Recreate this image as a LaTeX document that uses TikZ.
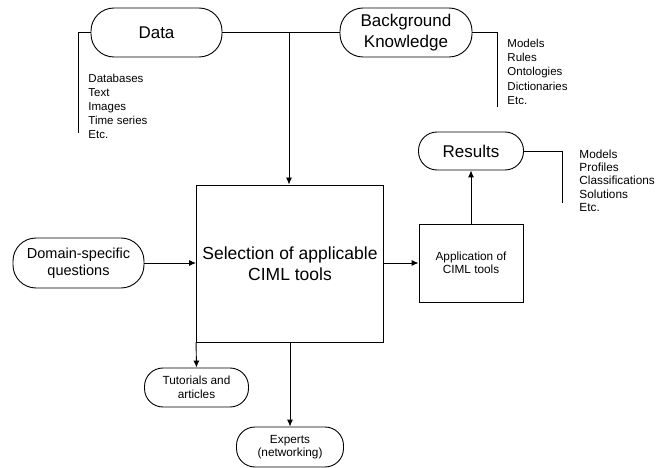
\documentclass[tikz,border=0pt]{standalone}
\usepackage{fontspec}
\setmainfont{Liberation Sans}
\usetikzlibrary{arrows.meta}

\tikzset{
  pill/.style={draw, rounded corners=#1, align=center, inner sep=1pt},
  pill/.default=18.5pt,
  plainbox/.style={draw, align=center, inner sep=1pt},
  itemlist/.style={align=left, inner sep=0pt, anchor=north west},
  big/.style={font=\fontsize{17}{21}\selectfont},
  small/.style={font=\fontsize{11.8}{13.5}\selectfont}
}

\begin{document}
\begin{tikzpicture}[x=1pt, y=-1pt, line width=0.9pt, >={Latex[length=7pt,width=6pt]}]
\useasboundingbox (0,0) rectangle (665,468);
\node [pill=23pt, big, minimum width=131pt, minimum height=49pt] (data) at (156.5,32.5) {Data};
\node [pill=23pt, big, minimum width=132pt, minimum height=49pt] (knowledge) at (406,32.5) {Background\\Knowledge};
\node [pill, big, minimum width=105pt, minimum height=38pt] (results) at (471,151) {Results};
\node [pill=23pt, minimum width=131pt, minimum height=50pt, font=\fontsize{14.5}{17}\selectfont] (questions) at (78.5,263) {Domain-specific\\questions};
\node [plainbox, minimum width=187pt, minimum height=157pt, font=\fontsize{17.5}{21}\selectfont] (selection) at (290,263.5) {Selection of applicable\\CIML tools};
\node [plainbox, small, minimum width=104pt, minimum height=78pt] (application) at (471,263) {Application of\\CIML tools};
\node [pill, small, minimum width=104pt, minimum height=39pt] (tutorials) at (196.5,387.5) {Tutorials and\\articles};
\node [pill, small, minimum width=107pt, minimum height=40pt] (experts) at (290,447) {Experts\\(networking)};

\node [itemlist, font=\fontsize{11.5}{14}\selectfont] (datalist) at (88,73.6) {Databases\\Text\\Images\\Time series\\Etc.};
\node [itemlist, font=\fontsize{11.5}{14.25}\selectfont] (knowledgelist) at (507,38.6) {Models\\Rules\\Ontologies\\Dictionaries\\Etc.};
\node [itemlist, font=\fontsize{11.8}{13.2}\selectfont] (resultslist) at (579,149.6) {Models\\Profiles\\Classifications\\Solutions\\Etc.};

\coordinate (dataend) at (78,133);
\coordinate (knowledgeend) at (497,107);
\coordinate (resultsend) at (562,203);
\coordinate (split) at (289,32.5);

\draw (data) to (knowledge);
\draw (data.west) -| (dataend);
\draw (knowledge.east) -| (knowledgeend);
\draw (results.east) -| (resultsend);
\draw [->] (split) to (split |- selection.north);
\draw [->] (questions.east) to (questions.east -| selection.west);
\draw [->] (selection.east |- application.west) to (application.west);
\draw [->] (application) to (results);
\draw [->] (selection.south west) to (tutorials.north);
\draw [->] (selection.south) to (experts.north);
\end{tikzpicture}
\end{document}
